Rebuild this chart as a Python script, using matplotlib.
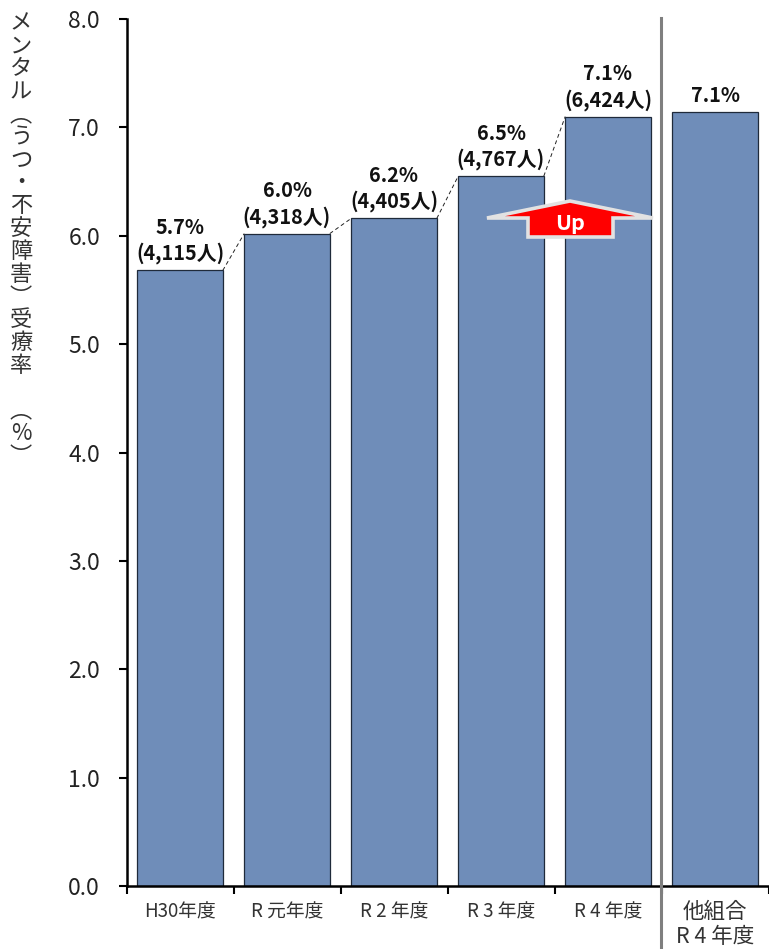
import numpy as np
import matplotlib
matplotlib.use('Agg')
import matplotlib.pyplot as plt
from matplotlib.patches import Polygon

plt.rcParams['font.family'] = ['Noto Sans CJK JP', 'DejaVu Sans']

W, H = 769, 949

categories = ['H30年度', 'R 元年度', 'R 2 年度', 'R 3 年度', 'R 4 年度', '他組合\nR 4 年度']
rates = [5.68, 6.02, 6.16, 6.55, 7.10, 7.14]
rate_labels = ['5.7%', '6.0%', '6.2%', '6.5%', '7.1%', '7.1%']
counts = ['4,115', '4,318', '4,405', '4,767', '6,424', '']
ylabel_text = 'メンタル︵うつ・不安障害︶受療率 ︵%︶'

fig = plt.figure(figsize=(W / 100, H / 100), dpi=100)
ax = fig.add_axes([126.5 / W, 1 - 886 / H, (768.5 - 126.5) / W, (886 - 19) / H])

x = np.arange(len(categories))
ax.bar(x, rates, width=0.8, color='#6f8db9', edgecolor='#1f2a3a', linewidth=0.9, zorder=2)

# dashed lines between the first five bars
for i in range(4):
    ax.plot([x[i] + 0.4, x[i + 1] - 0.4], [rates[i], rates[i + 1]],
            color='#222222', lw=0.7, ls=(0, (4, 3)), zorder=1)

for i in range(6):
    txt = rate_labels[i]
    if counts[i]:
        txt += '\n(' + counts[i] + '人)'
    ax.text(x[i], rates[i] + 0.055, txt, ha='center', va='bottom', fontsize=14.3,
            fontweight='bold', color='#111111', linespacing=1.25, zorder=3)

ax.set_xlim(-0.5, 5.5)
ax.set_ylim(0, 8)
ax.set_yticks(np.arange(0, 9))
ax.set_yticklabels(['%.1f' % v for v in np.arange(0, 9)], fontsize=16.5, color='#222222')
ax.set_xticks(np.arange(-0.5, 6))
ax.set_xticklabels([])
ax.tick_params(axis='both', direction='out', length=6, width=1.5, color='black')
ax.tick_params(axis='y', pad=13)
for i in range(6):
    ax.text(x[i], -0.14, categories[i], ha='center', va='top',
            fontsize=13.5 if i < 5 else 15.5, color='#333333', linespacing=1.15)
for s in ['top', 'right']:
    ax.spines[s].set_visible(False)
for s in ['left', 'bottom']:
    ax.spines[s].set_linewidth(1.8)

# divider before the other-union bar
fig.add_artist(plt.Line2D([660.5 / W, 660.5 / W], [1 - 18 / H, 1 - 948 / H], color='#7f7f7f', lw=2.2))

# Up arrow, pixel positions from top left
arrow = [(570, 201), (653, 218), (613, 218), (613, 237), (528, 237), (528, 218), (487, 218)]
arrow = [(a / W, 1 - b / H) for a, b in arrow]
fig.add_artist(Polygon(arrow, closed=True, facecolor='#ff0000', edgecolor='#e2e2e2', lw=2.6,
                       transform=fig.transFigure, joinstyle='miter'))
fig.text(570 / W, 1 - 223 / H, 'Up', ha='center', va='center', fontsize=15.5,
         fontweight='bold', color='white')

fig.text(21 / W, 1 - 240 / H, '\n'.join(ylabel_text), ha='center', va='center',
         fontsize=16, color='#333333', linespacing=0.99)

fig.savefig('out.png', dpi=100)
